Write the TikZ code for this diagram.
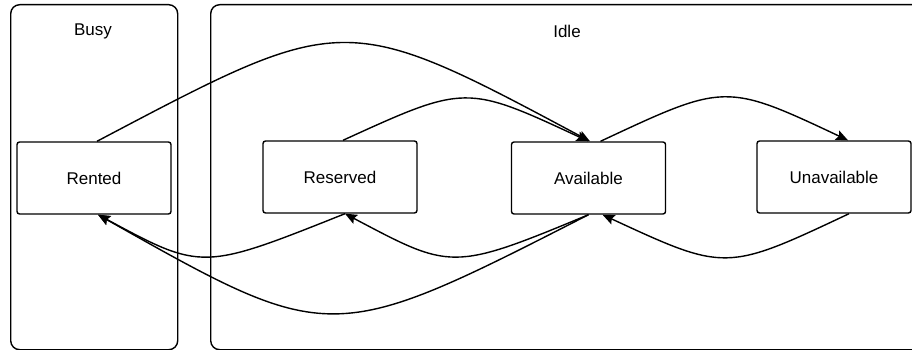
\documentclass[tikz,border=0pt]{standalone}
\usepackage{fontspec}
\setmainfont{Liberation Sans}
\usetikzlibrary{arrows.meta}
\begin{document}
\begin{tikzpicture}[x=1pt,y=-1pt,
  container/.style={draw,line width=1.4pt,rounded corners=9pt,inner sep=0pt,anchor=north west},
  state/.style={draw,line width=1.4pt,rounded corners=2.5pt,minimum width=154pt,minimum height=72pt,inner sep=0pt,font=\fontsize{17}{20}\selectfont},
  lbl/.style={font=\fontsize{17}{20}\selectfont,inner sep=0pt},
  trans/.style={line width=1.4pt,-{Stealth[length=12pt,width=10pt,inset=2pt]}}]
\useasboundingbox (0,0) rectangle (912,350);
\clip (0,0) rectangle (912,350);
\node[container,minimum width=167pt,minimum height=345pt] (busy) at (10,4) {};
\node[container,minimum width=715pt,minimum height=345pt] (idle) at (210,4) {};
\node[lbl] (busylbl) at (93,31) {Busy};
\node[lbl] (idlelbl) at (567,31) {Idle};
\node[state] (rented) at (94,178) {Rented};
\node[state] (reserved) at (340,177) {Reserved};
\node[state] (available) at (588.5,178) {Available};
\node[state] (unavailable) at (834,177) {Unavailable};
% top arcs
\draw[trans] ([xshift=3pt]rented.north) .. controls +(246.5,-130) and +(-246.5,-132) .. ([xshift=1.5pt]available.north);
\draw[trans] ([xshift=3pt]reserved.north) .. controls +(122.5,-56) and +(-122.5,-57) .. ([xshift=0pt]available.north);
\draw[trans] ([xshift=12pt]available.north) .. controls +(124,-58) and +(-123,-58) .. ([xshift=14pt]unavailable.north);
% bottom arcs
\draw[trans] ([xshift=15pt]unavailable.south) .. controls +(-123,58) and +(123,57) .. ([xshift=14pt]available.south);
\draw[trans] ([xshift=0pt]available.south) .. controls +(-137,57) and +(106,56) .. ([xshift=5pt]reserved.south);
\draw[trans] ([xshift=5pt]reserved.south) .. controls +(-143,57) and +(104,56) .. ([xshift=4pt]rented.south);
\draw[trans] ([xshift=0pt]available.south) .. controls +(-258,132) and +(232,131) .. ([xshift=4pt]rented.south);
\end{tikzpicture}
\end{document}
